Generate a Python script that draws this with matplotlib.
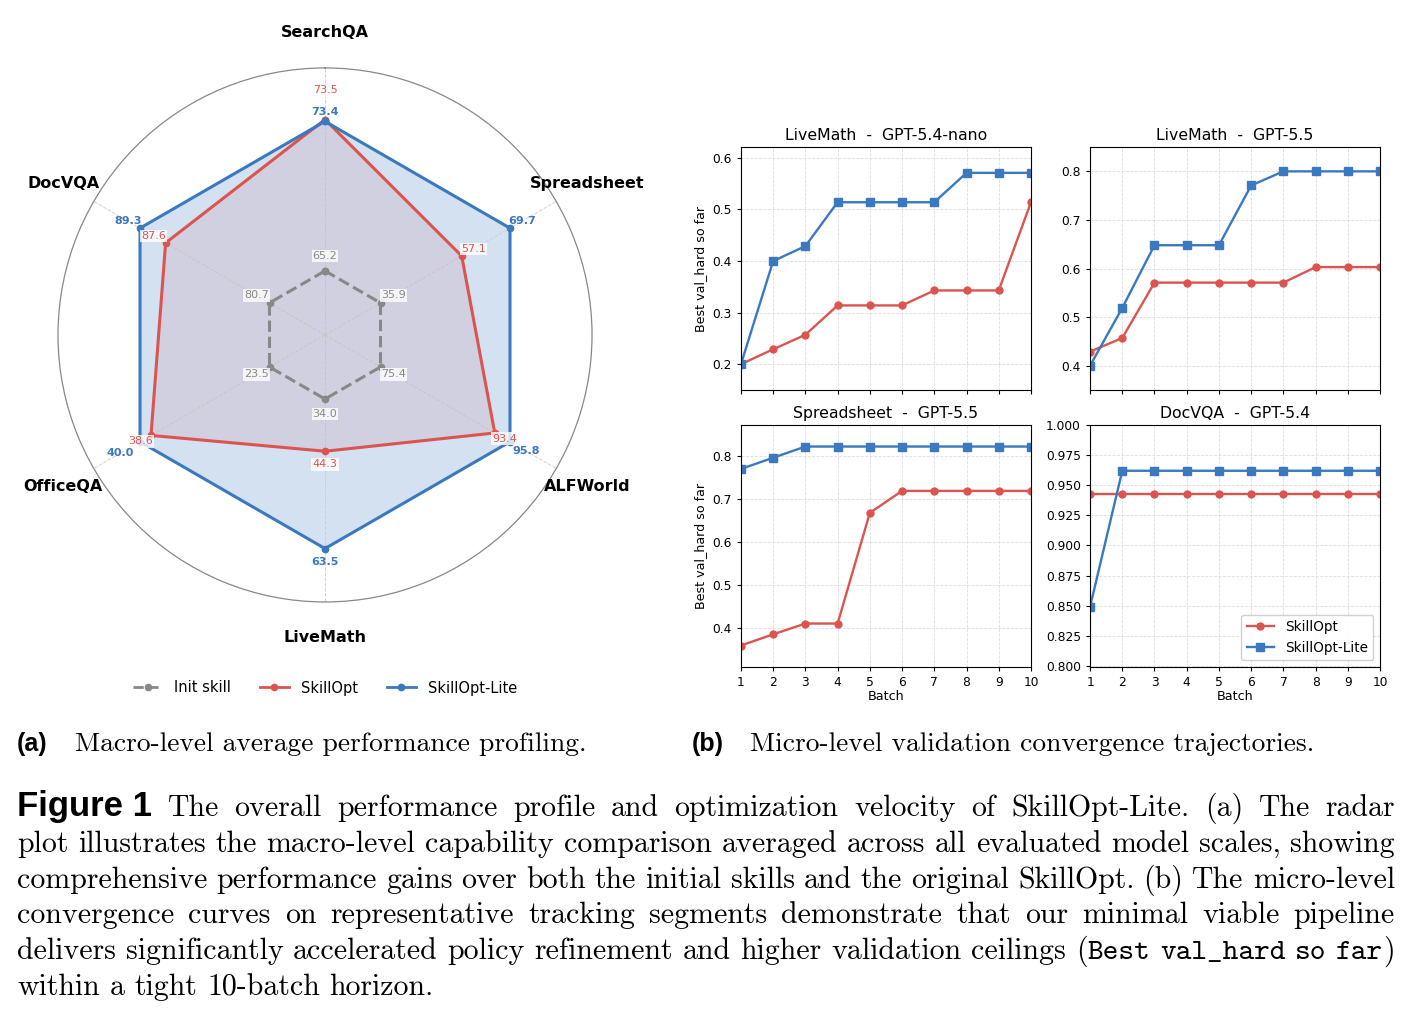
import matplotlib
matplotlib.use('Agg')
import matplotlib.pyplot as plt
import numpy as np
from matplotlib.lines import Line2D

# ---- data ----
categories = ['SearchQA', 'Spreadsheet', 'ALFWorld', 'LiveMath', 'OfficeQA', 'DocVQA']
init_scores = [65.2, 35.9, 75.4, 34.0, 23.5, 80.7]
skillopt_scores = [73.5, 57.1, 93.4, 44.3, 38.6, 87.6]
lite_scores = [73.4, 69.7, 95.8, 63.5, 40.0, 89.3]

batches = list(range(1, 11))
panel_titles = ['LiveMath  -  GPT-5.4-nano', 'LiveMath  -  GPT-5.5',
                'Spreadsheet  -  GPT-5.5', 'DocVQA  -  GPT-5.4']
skillopt_curves = [
    [0.200, 0.229, 0.257, 0.314, 0.314, 0.314, 0.343, 0.343, 0.343, 0.514],
    [0.429, 0.457, 0.571, 0.571, 0.571, 0.571, 0.571, 0.603, 0.603, 0.603],
    [0.359, 0.385, 0.410, 0.410, 0.667, 0.718, 0.718, 0.718, 0.718, 0.718],
    [0.943, 0.943, 0.943, 0.943, 0.943, 0.943, 0.943, 0.943, 0.943, 0.943],
]
lite_curves = [
    [0.200, 0.400, 0.429, 0.514, 0.514, 0.514, 0.514, 0.571, 0.571, 0.571],
    [0.400, 0.519, 0.648, 0.648, 0.648, 0.771, 0.800, 0.800, 0.800, 0.800],
    [0.769, 0.795, 0.821, 0.821, 0.821, 0.821, 0.821, 0.821, 0.821, 0.821],
    [0.849, 0.962, 0.962, 0.962, 0.962, 0.962, 0.962, 0.962, 0.962, 0.962],
]

BLUE = '#3A78C0'
RED = '#DB5450'
GRAY = '#888888'

fig = plt.figure(figsize=(14.14, 10.17), dpi=100)

# ---- (a) radar ----
ax = fig.add_axes([0.0410, 0.4081, 0.3777, 0.5251], projection='polar')
ax.set_theta_offset(np.pi / 2)
ax.set_theta_direction(-1)
theta = np.linspace(0, 2 * np.pi, len(categories), endpoint=False)

init = np.array(init_scores)
opt = np.array(skillopt_scores)
lite = np.array(lite_scores)


def norm(v):
    # per-axis scaling: init skill -> 0.3, SkillOpt-Lite -> 1.0
    return 0.3 + 0.7 * (v - init) / (lite - init)


series = [
    (init, GRAY, '--', 'Init skill'),
    (opt, RED, '-', 'SkillOpt'),
    (lite, BLUE, '-', 'SkillOpt-Lite'),
]
tc = np.append(theta, theta[0])
for vals, col, ls, lab in series:
    r = norm(vals)
    rc = np.append(r, r[0])
    if lab == 'SkillOpt-Lite':
        ax.fill(tc, rc, color=col, alpha=0.22, zorder=1)
    elif lab == 'SkillOpt':
        ax.fill(tc, rc, color='#c85a66', alpha=0.12, zorder=2)
    ax.plot(tc, rc, color=col, ls=ls, lw=2.2, marker='o', ms=4.5, zorder=3)

# value labels (radial offsets per axis to avoid overlap)
off_init = [0.07] * 6
off_opt = [0.136, 0.066, 0.052, 0.062, 0.056, 0.066]
off_lite = [0.045, 0.066, 0.085, 0.062, 0.108, 0.066]
for i, t in enumerate(theta):
    ax.text(t, norm(init)[i] + off_init[i], f'{init[i]:.1f}', color=GRAY, fontsize=8,
            ha='center', va='center', zorder=5,
            bbox=dict(boxstyle='square,pad=0.1', fc='white', ec='none', alpha=0.8))
    ax.text(t, norm(opt)[i] + off_opt[i], f'{opt[i]:.1f}', color=RED, fontsize=8,
            ha='center', va='center', zorder=5,
            bbox=dict(boxstyle='square,pad=0.1', fc='white', ec='none', alpha=0.8))
    ax.text(t, norm(lite)[i] + off_lite[i], f'{lite[i]:.1f}', color=BLUE, fontsize=8,
            fontweight='bold', ha='center', va='center', zorder=5)
    ax.text(t, 1.415, categories[i], fontsize=11.5, fontweight='bold',
            ha='center', va='center')

ax.set_ylim(0, 1.25)
ax.set_yticks([])
ax.set_xticks(theta)
ax.set_xticklabels([])
ax.xaxis.grid(True, linestyle='--', color='#d0d0d0', lw=0.7)
ax.spines['polar'].set_color(GRAY)
ax.spines['polar'].set_linewidth(0.9)

handles = [Line2D([], [], color=GRAY, ls='--', lw=2, marker='o', ms=4.5),
           Line2D([], [], color=RED, lw=2, marker='o', ms=4.5),
           Line2D([], [], color=BLUE, lw=2, marker='o', ms=4.5)]
fig.legend(handles, ['Init skill', 'SkillOpt', 'SkillOpt-Lite'], ncol=3,
           loc='center', bbox_to_anchor=(325 / 1414, 1 - 688 / 1017),
           frameon=False, fontsize=10.5, handlelength=2.0, columnspacing=2.0)

# ---- (b) convergence curves ----
rects = [[0.5240, 0.6165, 0.2051, 0.2389], [0.7709, 0.6165, 0.2051, 0.2389],
         [0.5240, 0.3441, 0.2051, 0.2380], [0.7709, 0.3441, 0.2051, 0.2380]]
for k in range(4):
    a = fig.add_axes(rects[k])
    s = skillopt_curves[k]
    l = lite_curves[k]
    a.plot(batches, s, color=RED, marker='o', ms=5, lw=1.7, label='SkillOpt')
    a.plot(batches, l, color=BLUE, marker='s', ms=5.5, lw=1.7, label='SkillOpt-Lite')
    lo = max(0.0, min(min(s), min(l)) - 0.05)
    hi = min(1.0, max(max(s), max(l)) + 0.05)
    a.set_ylim(lo, hi)
    a.set_xlim(1, 10)
    a.set_xticks(batches)
    a.set_title(panel_titles[k], fontsize=11.3, pad=5)
    a.grid(True, linestyle='--', color='#dddddd', lw=0.6)
    a.tick_params(labelsize=8.8, length=3)
    if k < 2:
        a.set_xticklabels([])
    else:
        a.set_xlabel('Batch', fontsize=9.2, labelpad=1)
    if k % 2 == 0:
        a.set_ylabel('Best val_hard so far', fontsize=9.1)
    if k == 3:
        a.legend(loc='lower right', fontsize=9.8, framealpha=0.9, edgecolor='#cccccc')

# ---- captions ----
renderer = fig.canvas.get_renderer()
W, H = 1414, 1017
SERIF = 'cmr10'
MONO = 'cmtt10'
SANS = 'Liberation Sans'
CAP_FS = 21.5


def put(x, ybase, txt, **kw):
    return fig.text(x / W, 1 - ybase / H, txt, va='baseline', ha='left', **kw)


def width(t):
    return t.get_window_extent(renderer).width


sub_fs = 19.8
put(17, 751, '(a)', family=SANS, fontweight='bold', fontsize=18)
put(75, 751, 'Macro-level average performance profiling.', family=SERIF, fontsize=sub_fs)
put(692, 751, '(b)', family=SANS, fontweight='bold', fontsize=18)
put(750, 751, 'Micro-level validation convergence trajectories.', family=SERIF, fontsize=sub_fs)

serif = dict(family=SERIF, fontsize=CAP_FS)
mono = dict(family=MONO, fontsize=CAP_FS)
bold_sans = dict(family=SANS, fontweight='bold', fontsize=25)


def words(s):
    return [[(w, serif)] for w in s.split()]


last_words = [[('(', serif), ('Best', mono)], [('val_hard', mono)], [('so', mono)],
              [('far', mono), (')', serif)]]
lines = [
    [[('Figure 1', bold_sans)]] + words('The overall performance profile and optimization velocity of SkillOpt-Lite.  (a) The radar'),
    words('plot illustrates the macro-level capability comparison averaged across all evaluated model scales, showing'),
    words('comprehensive performance gains over both the initial skills and the original SkillOpt. (b) The micro-level'),
    words('convergence curves on representative tracking segments demonstrate that our minimal viable pipeline'),
    words('delivers significantly accelerated policy refinement and higher validation ceilings') + last_words,
    words('within a tight 10-batch horizon.'),
]
x0, x1 = 17, 1395
ybases = [816, 852, 888, 923, 959, 995]
for li, (line, yb) in enumerate(zip(lines, ybases)):
    objs = []
    for w in line:
        segs = []
        for txt, props in w:
            segs.append(put(0, yb, txt, **props))
        objs.append(segs)
    wws = [sum(width(sg) for sg in segs) for segs in objs]
    total = sum(wws)
    if li < len(lines) - 1:
        gap = (x1 - x0 - total) / (len(objs) - 1)
    else:
        gap = 0.33 * CAP_FS * 100 / 72
    x = x0
    for segs, ww in zip(objs, wws):
        xx = x
        for sg in segs:
            sg.set_x(xx / W)
            xx += width(sg)
        x += ww + gap

fig.savefig('out.png', dpi=100)
